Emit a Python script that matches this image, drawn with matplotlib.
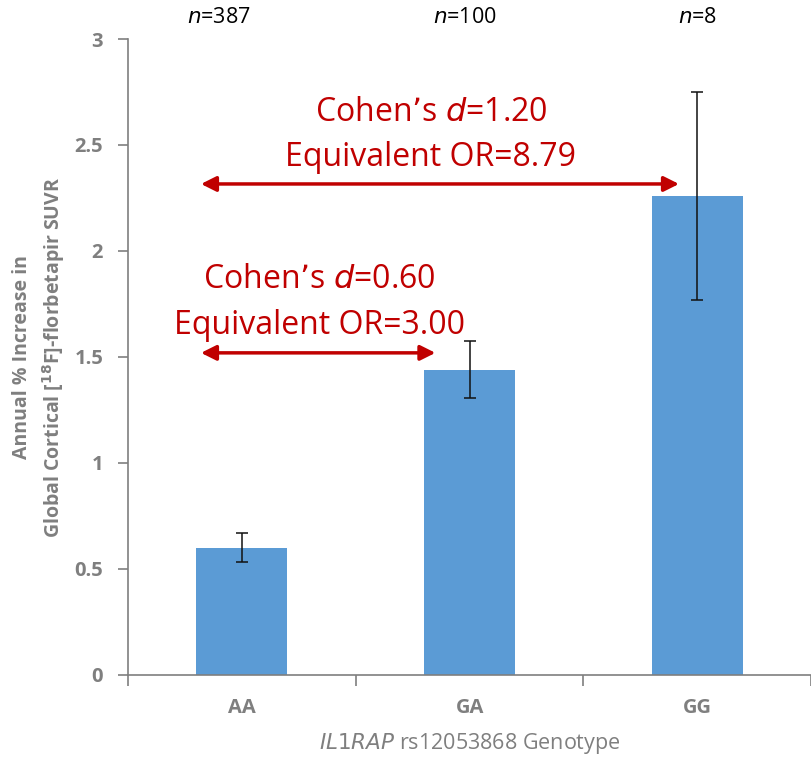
import numpy as np
import matplotlib.pyplot as plt

plt.rcParams['font.family'] = ['Open Sans', 'DejaVu Sans']

genotypes = ['AA', 'GA', 'GG']
means = [0.60, 1.44, 2.26]
errors = [0.07, 0.135, 0.49]
n_labels = ['387', '100', '8']

# effect size annotations
cohen_small = ['0.60', '3.00']
cohen_big = ['1.20', '8.79']

GRAY = '#7f7f7f'
RED = '#C00000'
BLUE = '#5B9BD5'

fig = plt.figure(figsize=(8.11, 7.59), dpi=100)
ax = fig.add_axes([0.158, 0.111, 0.842, 0.8376])

x = np.arange(len(genotypes))
ax.bar(x, means, width=0.4, color=BLUE, zorder=2)
ax.errorbar(x, means, yerr=errors, fmt='none', ecolor='#111111', elinewidth=1.1,
            capsize=4.5, capthick=1.1, zorder=3)

ax.set_xlim(-0.5, 2.5)
ax.set_ylim(0, 3)
ax.set_yticks([0, 0.5, 1, 1.5, 2, 2.5, 3])
ax.set_yticklabels(['0', '0.5', '1', '1.5', '2', '2.5', '3'])

# category boundaries get the tick marks, labels sit at the centres
ax.set_xticks([-0.5, 0.5, 1.5, 2.5])
ax.set_xticklabels([])
ax.set_xticks(x, minor=True)
ax.set_xticklabels(genotypes, minor=True)
ax.tick_params(axis='x', which='major', length=8, direction='out', color=GRAY, width=1.2)
ax.tick_params(axis='x', which='minor', length=0, pad=17, labelsize=14.5, labelcolor=GRAY)
ax.tick_params(axis='y', length=7, direction='out', color=GRAY, width=1.2, pad=11,
               labelsize=14.5, labelcolor=GRAY)
for lbl in ax.get_xticklabels(minor=True) + ax.get_yticklabels():
    lbl.set_fontweight('bold')

for side in ['top', 'right']:
    ax.spines[side].set_visible(False)
for side in ['left', 'bottom']:
    ax.spines[side].set_color(GRAY)
    ax.spines[side].set_linewidth(1.2)

ax.set_ylabel('Annual % Increase in\nGlobal Cortical [$^{\\mathbf{18}}$F]-florbetapir SUVR',
              fontsize=14, fontweight='bold', color=GRAY, labelpad=5, linespacing=1.45)
ax.set_xlabel('$\\it{IL1RAP}$ rs12053868 Genotype', fontsize=15.5, color=GRAY, labelpad=9)

n_offsets = [-0.1, -0.02, 0.0]
for xi, n, off in zip(x, n_labels, n_offsets):
    ax.text(xi + off, 3.1, '$\\it{n}$=' + n, ha='center', va='center', fontsize=15.5,
            color='black', clip_on=False)

arrow_kw = dict(arrowstyle='<|-|>,head_length=0.9,head_width=0.45', color=RED, lw=2.5,
                shrinkA=0, shrinkB=0)
ax.annotate('', xy=(1.92, 2.316), xytext=(-0.18, 2.316), arrowprops=arrow_kw)
ax.annotate('', xy=(0.85, 1.519), xytext=(-0.18, 1.519), arrowprops=arrow_kw)

ax.text(0.83, 2.655, 'Cohen\u2019s $\\it{d}$=' + cohen_big[0], ha='center', va='center',
        fontsize=23, color=RED)
ax.text(0.83, 2.44, 'Equivalent OR=' + cohen_big[1], ha='center', va='center',
        fontsize=23, color=RED)
ax.text(0.34, 1.865, 'Cohen\u2019s $\\it{d}$=' + cohen_small[0], ha='center', va='center',
        fontsize=23, color=RED)
ax.text(0.34, 1.65, 'Equivalent OR=' + cohen_small[1], ha='center', va='center',
        fontsize=23, color=RED)

fig.savefig('out.png', dpi=100)
